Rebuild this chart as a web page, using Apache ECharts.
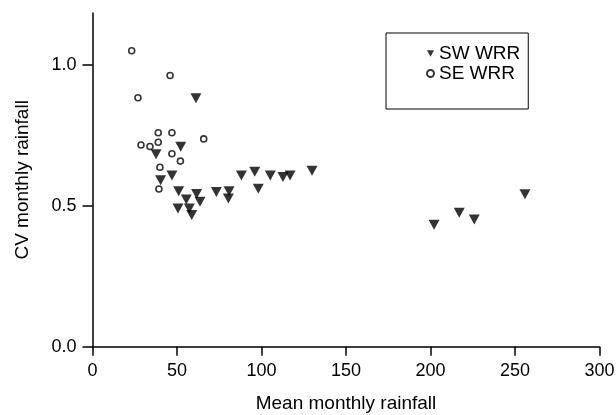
<!DOCTYPE html>
<html>
<head>
<meta charset="utf-8">
<script src="https://cdn.jsdelivr.net/npm/echarts@6/dist/echarts.min.js"></script>
<style>
  html, body { margin: 0; padding: 0; background: #fff; }
  #main { width: 616px; height: 415px; }
</style>
</head>
<body>
<div id="main"></div>
<script>
// SW WRR stations: [mean monthly rainfall, CV]
var swMean = [61.2, 52.2, 37.6, 47.0, 40.3, 51.0, 61.6, 55.5, 63.6, 50.6, 57.3, 58.7,
              73.3, 80.8, 80.4, 88.1, 96.0, 98.1, 105.2, 112.7, 116.9, 129.9,
              202.1, 217.0, 225.9, 255.9];
var swCv = [0.882, 0.710, 0.683, 0.608, 0.591, 0.552, 0.542, 0.523, 0.515, 0.491, 0.491, 0.468,
            0.549, 0.552, 0.526, 0.608, 0.621, 0.561, 0.608, 0.603, 0.608, 0.625,
            0.433, 0.476, 0.452, 0.541];
// SE WRR stations
var seMean = [23.2, 45.9, 26.9, 38.9, 47.0, 65.8, 28.7, 34.0, 38.9, 47.0, 52.0, 39.9, 39.3];
var seCv = [1.051, 0.963, 0.884, 0.760, 0.760, 0.738, 0.716, 0.711, 0.726, 0.685, 0.659, 0.637, 0.560];

var yTicks = [0, 0.5, 1.0];

function pairs(xs, ys) {
    var out = [];
    xs.forEach(function (x, i) { out.push([x, ys[i]]); });
    return out;
}

var font = 'Liberation Sans, Arial, Helvetica, sans-serif';
var myChart = echarts.init(document.getElementById('main'));

var option = {
    animation: false,
    backgroundColor: '#fff',
    textStyle: { fontFamily: font, color: '#000' },
    grid: { left: 92.5, right: 16.5, top: 13, bottom: 68.3, outerBoundsMode: 'none', containLabel: false },
    legend: {
        orient: 'vertical',
        left: 386,
        top: 33,
        padding: [11, 8, 26, 40],
        itemGap: 1,
        itemWidth: 7,
        itemHeight: 7,
        borderColor: '#000',
        borderWidth: 1,
        textStyle: { fontFamily: font, fontSize: 19, lineHeight: 19, color: '#000' },
        data: [
            { name: 'SW WRR', icon: 'path://M0,0L10,0L5,9Z' },
            { name: 'SE WRR', icon: 'circle' }
        ]
    },
    xAxis: {
        type: 'value',
        min: 0,
        max: 300,
        interval: 50,
        name: 'Mean monthly rainfall',
        nameLocation: 'middle',
        nameGap: 48,
        nameTextStyle: { fontFamily: font, fontSize: 19, color: '#000' },
        axisLine: { onZero: false, lineStyle: { color: '#000', width: 1.5 } },
        axisTick: { length: 9, lineStyle: { color: '#000', width: 1.5 } },
        axisLabel: { fontFamily: font, fontSize: 18, color: '#000', margin: 15 },
        splitLine: { show: false }
    },
    yAxis: {
        type: 'value',
        min: 0,
        max: 1.185,
        name: 'CV monthly rainfall',
        nameLocation: 'middle',
        nameGap: 60,
        nameTextStyle: { fontFamily: font, fontSize: 19, color: '#000' },
        axisLine: { show: true, onZero: false, lineStyle: { color: '#000', width: 1.5 } },
        axisTick: { show: true, length: 10, customValues: yTicks, lineStyle: { color: '#000', width: 1.5 } },
        axisLabel: {
            fontFamily: font, fontSize: 18, color: '#000', margin: 16,
            customValues: yTicks,
            formatter: function (v) { return v.toFixed(1); }
        },
        splitLine: { show: false }
    },
    series: [
        {
            name: 'SW WRR',
            type: 'scatter',
            symbol: 'triangle',
            symbolRotate: 180,
            symbolSize: [11, 10],
            itemStyle: { color: '#000' },
            data: pairs(swMean, swCv)
        },
        {
            name: 'SE WRR',
            type: 'scatter',
            symbol: 'circle',
            symbolSize: 6,
            itemStyle: { color: '#fff', borderColor: '#000', borderWidth: 1.6 },
            data: pairs(seMean, seCv)
        }
    ]
};

myChart.setOption(option);
</script>
</body>
</html>
